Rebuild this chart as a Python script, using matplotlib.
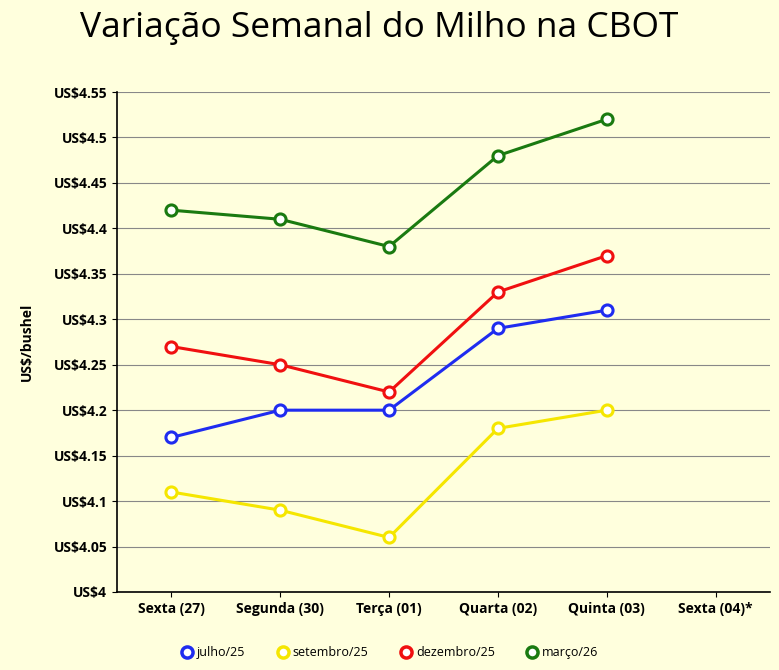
import matplotlib
matplotlib.use("Agg")
import matplotlib.pyplot as plt
import numpy as np

categories = ["Sexta (27)", "Segunda (30)", "Terça (01)", "Quarta (02)", "Quinta (03)", "Sexta (04)*"]
julho = [4.17, 4.20, 4.20, 4.29, 4.31, None]
setembro = [4.11, 4.09, 4.06, 4.18, 4.20, None]
dezembro = [4.27, 4.25, 4.22, 4.33, 4.37, None]
marco = [4.42, 4.41, 4.38, 4.48, 4.52, None]
series = [("julho/25", julho, "#1f2cf0"), ("setembro/25", setembro, "#f5e600"),
          ("dezembro/25", dezembro, "#f01010"), ("março/26", marco, "#1a7a10")]
yticks = [4.0, 4.05, 4.1, 4.15, 4.2, 4.25, 4.3, 4.35, 4.4, 4.45, 4.5, 4.55]

plt.rcParams['font.family'] = ['Open Sans', 'DejaVu Sans']
bg = "#FFFFDD"
fig = plt.figure(figsize=(7.79, 6.7), dpi=100, facecolor=bg)
ax = fig.add_axes([117/779, 1-592/670, 653/779, 500/670], facecolor=bg)
x = np.arange(len(categories))
handles = []
for name, vals, c in series:
    v = np.array([np.nan if a is None else a for a in vals], dtype=float)
    ax.plot(x, v, color=c, lw=2.2, marker='o', ms=8, mfc='white', mec=c, mew=2.2)
    h, = ax.plot([], [], ls='none', marker='o', ms=8, mfc='white', mec=c, mew=2.5, label=name)
    handles.append(h)
ax.set_xlim(-0.5, len(categories)-0.5)
ax.set_ylim(4.0, 4.55)
ax.set_yticks(yticks)
ax.set_yticklabels(["US$" + f"{t:g}" for t in yticks], fontsize=10, fontweight='bold')
ax.set_xticks(x)
ax.set_xticklabels(categories, fontsize=10, fontweight='bold')
ax.yaxis.grid(True, color='#888888', lw=0.8)
ax.set_axisbelow(True)
for s in ['top', 'right']:
    ax.spines[s].set_visible(False)
ax.spines['left'].set_linewidth(1.2)
ax.spines['bottom'].set_linewidth(1.2)
ax.set_ylabel("US$/bushel", fontsize=10, fontweight='bold', labelpad=14)
fig.text(0.487, 0.958, "Variação Semanal do Milho na CBOT", ha='center', va='center', fontsize=25.5)
fig.legend(handles=handles, loc='center', bbox_to_anchor=(0.5, 0.026), ncol=4, frameon=False, fontsize=9,
           handlelength=1.0, handletextpad=0.3, columnspacing=2.5)
fig.savefig("out.png", dpi=100, facecolor=bg)
